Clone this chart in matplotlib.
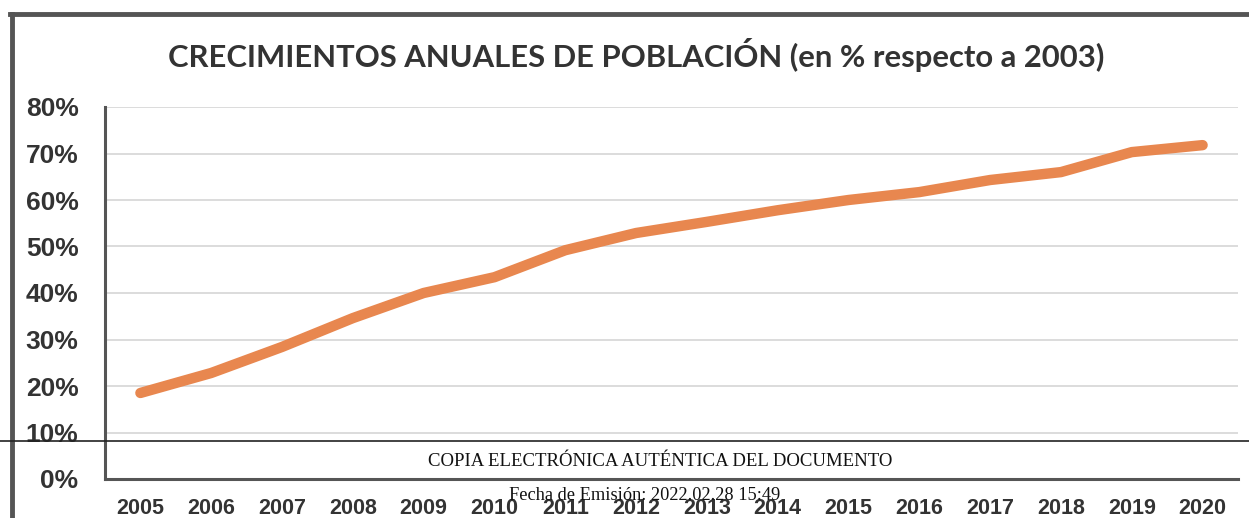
import numpy as np
import matplotlib.pyplot as plt
from matplotlib.lines import Line2D

# Crecimiento acumulado de la población respecto a 2003 (%)
years = ['2005', '2006', '2007', '2008', '2009', '2010', '2011', '2012',
         '2013', '2014', '2015', '2016', '2017', '2018', '2019', '2020']
growth = [18.5, 22.8, 28.4, 34.6, 40.0, 43.4, 49.2, 52.9,
          55.3, 57.8, 60.0, 61.7, 64.3, 66.0, 70.3, 71.8]
y_ticks = [0, 10, 20, 30, 40, 50, 60, 70, 80]

W, H = 1249, 518
fig = plt.figure(figsize=(W / 100, H / 100), dpi=100)
fig.patch.set_facecolor('white')

ax = fig.add_axes([105 / W, 39 / H, (1238 - 105) / W, (479 - 107) / H])
x = np.arange(len(years))
ax.plot(x, growth, color='#E8874F', lw=7.5, solid_capstyle='round',
        solid_joinstyle='round', zorder=3)

ax.set_xlim(-0.5, len(years) - 0.5)
ax.set_ylim(0, 80)
ax.set_yticks(y_ticks)
ax.set_yticklabels([f'{v}%' for v in y_ticks], fontsize=19,
                   fontweight='bold', color='#333333', family='Liberation Sans')
ax.set_xticks(x)
ax.set_xticklabels(years, fontsize=15.5, fontweight='bold', color='#333333',
                   family='Liberation Sans')
ax.tick_params(length=0)
ax.tick_params(axis='y', pad=19)
ax.tick_params(axis='x', pad=14)

ax.grid(axis='y', color='#dcdcdc', lw=1.4)
ax.set_axisbelow(True)
for side in ['top', 'right']:
    ax.spines[side].set_visible(False)
for side in ['left', 'bottom']:
    ax.spines[side].set_color('#555555')
    ax.spines[side].set_linewidth(2.2)

fig.text(636 / W, 1 - 55 / H,
         'CRECIMIENTOS ANUALES DE POBLACIÓN (en % respecto a 2003)',
         ha='center', va='center', fontsize=22.3, fontweight='bold',
         color='#333333', family='Lato')

# marco del documento escaneado
fig.add_artist(Line2D([10 / W, 1], [1 - 14 / H, 1 - 14 / H],
                      color='#555555', lw=3.5))
fig.add_artist(Line2D([12 / W, 12 / W], [0, 1 - 14 / H],
                      color='#555555', lw=3.5))
fig.add_artist(Line2D([0, 1], [1 - 441 / H, 1 - 441 / H],
                      color='#222222', lw=1.2, zorder=5))

# sello de copia electrónica
fig.text(660 / W, 1 - 461 / H, 'COPIA ELECTRÓNICA AUTÉNTICA DEL DOCUMENTO',
         ha='center', va='center', fontsize=13.5, color='#111111',
         family='Liberation Serif', zorder=6)
fig.text(645 / W, 1 - 496 / H, 'Fecha de Emisión: 2022.02.28 15:49',
         ha='center', va='center', fontsize=13.2, color='#111111',
         family='Liberation Serif', zorder=6)

fig.savefig('out.png', dpi=100)
